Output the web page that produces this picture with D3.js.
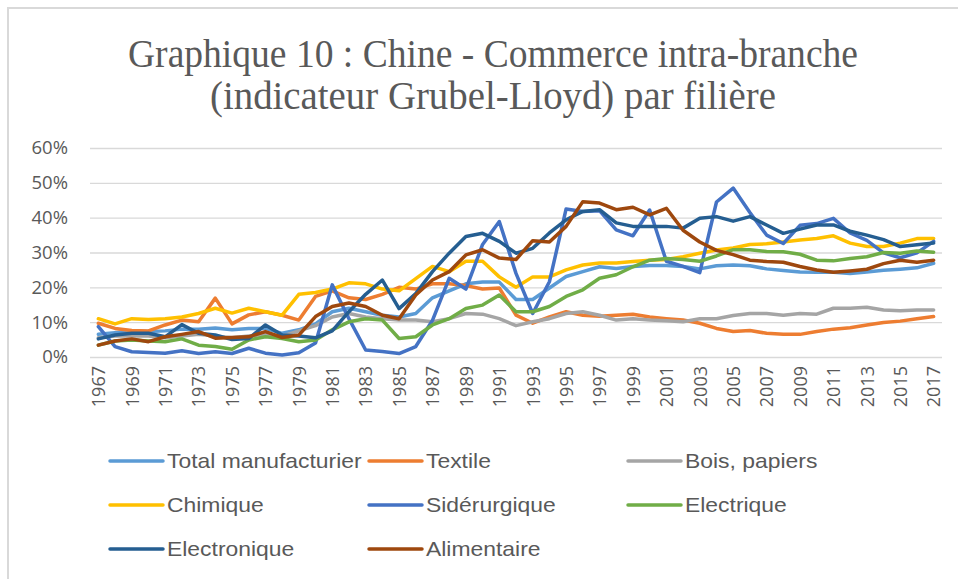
<!DOCTYPE html>
<meta charset="UTF-8">
<style>
  body { margin: 0; background: #fff; }
  .title { font-family: "Liberation Serif", "DejaVu Serif", serif; fill: #595959; }
  .tick text { font-family: "Open Sans", sans-serif; fill: #595959; }
  .legend text { font-family: "Liberation Sans", sans-serif; fill: #595959; }
</style>
<body>
<script src="https://cdnjs.cloudflare.com/ajax/libs/d3/7.8.5/d3.min.js"></script>
<script>
// years 1967 -> 2017
const years = d3.range(1967, 2018);
const yTicks = [0, 0.1, 0.2, 0.3, 0.4, 0.5, 0.6];

// values in %
const totalManufacturier = [6.5, 7, 7.5, 7.3, 7.5, 8, 8, 8.3, 7.8, 8.2, 8.2, 6.8, 7.8, 9.5, 13, 14, 13, 12, 11.5, 12.5,
  17, 19, 21, 21.5, 21.5, 16.5, 16.5, 19.8, 23.1, 24.5, 25.9, 25.4, 26, 26.3, 26.3, 26, 25.3, 26.2, 26.4, 26.2,
  25.3, 24.8, 24.4, 24.3, 24.3, 24, 24.4, 24.9, 25.2, 25.6, 26.9];
const textile = [9.7, 8.2, 7.6, 7.5, 9.2, 10.6, 10.1, 16.9, 9.5, 12.1, 13, 12, 10.6, 17.4, 19, 17, 16.5, 18, 20, 19.5,
  21, 21, 20.5, 19.5, 19.8, 12, 9.7, 11.5, 13, 12, 11.7, 12, 12.3, 11.5, 11, 10.6, 9.7, 8.2, 7.3, 7.6,
  6.8, 6.5, 6.5, 7.3, 8, 8.4, 9.2, 9.9, 10.3, 11, 11.6];
const boisPapiers = [5.5, 6, 6, 6, 5.5, 6, 6.5, 6, 5.5, 6, 6.5, 6, 7.5, 9, 11.5, 12.5, 11.5, 11, 10.6, 10.6,
  10.1, 11, 12.5, 12.3, 11, 9, 10.1, 11, 12.5, 13, 12, 10.6, 11, 10.6, 10.4, 10.1, 11, 11, 11.9, 12.5,
  12.5, 12, 12.5, 12.3, 14, 14, 14.3, 13.5, 13.3, 13.5, 13.5];
const chimique = [11, 9.5, 11, 10.8, 11, 11.5, 12.5, 14, 12.6, 14, 13, 12, 18, 18.5, 19.5, 21.3, 21, 19.5, 19, 22.5,
  26, 24.5, 27.5, 27.5, 23, 20, 23, 23, 25, 26.4, 27, 27, 27.4, 27.8, 28, 28.8, 29.8, 30.7, 31.3, 32.3,
  32.5, 33, 33.6, 34, 34.8, 32.7, 31.7, 31.7, 32.7, 34, 34];
const siderurgique = [8.7, 3, 1.5, 1.3, 1.1, 1.8, 1, 1.5, 1, 2.5, 1.1, 0.6, 1.2, 4, 20.7, 11, 2, 1.6, 1, 3,
  10.5, 22.6, 19.5, 32.3, 38.9, 24, 12.5, 21.6, 42.5, 41.8, 42, 36.5, 34.8, 42.2, 27.5, 26, 24.2, 44.5, 48.5, 41.5,
  35, 32.6, 37.8, 38.3, 39.8, 35.6, 33.5, 29.9, 28.5, 29.9, 33.2];
const electrique = [3.4, 4.6, 4.9, 4.6, 4.4, 5.2, 3.4, 3, 2.2, 4.9, 5.8, 5.3, 4.4, 4.9, 7.8, 10.1, 11, 10.6, 5.3, 5.8,
  9.2, 11, 13.9, 14.9, 17.8, 13, 13, 14.5, 17.4, 19.3, 22.6, 23.6, 25.9, 27.8, 28.3, 28, 27.5, 29, 30.8, 30.8,
  30.3, 30.2, 29.5, 27.8, 27.6, 28.3, 28.8, 30, 29.8, 30.4, 30.1];
const electronique = [5.2, 6.3, 6.8, 6.8, 5.8, 9.3, 6.8, 6.3, 5, 5.3, 9.2, 6.3, 6, 5.5, 7.5, 13, 18, 22.1, 13.9, 18.2,
  24.5, 29.8, 34.6, 35.5, 33.2, 29.8, 31.2, 35.6, 39.4, 41.8, 42.3, 38.5, 37.5, 37.5, 37.5, 37, 39.8, 40.3, 39, 40.3,
  37.9, 35.5, 36.7, 37.9, 37.9, 36.1, 35, 33.7, 31.7, 32.2, 32.7];
const alimentaire = [3.4, 4.6, 5.2, 4.4, 5.8, 6.5, 7.3, 5.4, 5.6, 5.8, 7.3, 5.6, 6.3, 11.6, 14.5, 15.5, 14.5, 12, 11, 17.8,
  22.1, 24.5, 29.3, 30.8, 28.4, 28, 33.4, 33, 37.5, 44.6, 44.2, 42.3, 43, 40.8, 42.7, 36.4, 33, 30.6, 29.4, 27.8,
  27.4, 27.2, 26, 25, 24.3, 24.7, 25.2, 26.8, 27.8, 27.2, 27.8];

const seriesNames = ["Total manufacturier", "Textile", "Bois, papiers", "Chimique", "Sidérurgique",
  "Electrique", "Electronique", "Alimentaire"];
const seriesValues = [totalManufacturier, textile, boisPapiers, chimique, siderurgique,
  electrique, electronique, alimentaire];
const colors = ["#5B9BD5", "#ED7D31", "#A5A5A5", "#FFC000", "#4472C4", "#70AD47", "#255E91", "#9E480E"];

const width = 958, height = 579;
const plot = {left: 90, right: 942, top: 148, bottom: 357};

const svg = d3.select("body").append("svg")
    .attr("width", width)
    .attr("height", height);

// chart frame
svg.append("rect")
    .attr("x", 8).attr("y", 8)
    .attr("width", 1000).attr("height", 1000)
    .attr("fill", "none")
    .attr("stroke", "#D9D9D9")
    .attr("stroke-width", 2);

// title (the source text is a little condensed, so squeeze it with textLength)
const titleLines = [
  {text: "Graphique 10 : Chine - Commerce intra-branche", y: 67, w: 730},
  {text: "(indicateur Grubel-Lloyd) par filière", y: 109, w: 566}
];
titleLines.forEach(l => {
  svg.append("text")
      .attr("class", "title")
      .attr("text-anchor", "middle")
      .attr("x", 493).attr("y", l.y)
      .attr("textLength", l.w)
      .attr("lengthAdjust", "spacingAndGlyphs")
      .style("font-size", "40px")
      .text(l.text);
});

const x = d3.scalePoint()
    .domain(years)
    .range([plot.left, plot.right])
    .padding(0.5);

const y = d3.scaleLinear()
    .domain([0, 0.6])
    .range([plot.bottom, plot.top]);

// gridlines + y labels
const yAxis = svg.append("g")
    .attr("transform", `translate(${plot.left},0)`)
    .call(d3.axisLeft(y).tickValues(yTicks).tickFormat(d3.format(".0%"))
        .tickSize(-(plot.right - plot.left)).tickPadding(22));
yAxis.select(".domain").remove();
yAxis.selectAll(".tick line").attr("stroke", "#D9D9D9").attr("stroke-width", 1.3);
yAxis.selectAll(".tick text").style("font-size", "18.5px");

// x labels
const xAxis = svg.append("g")
    .attr("transform", `translate(0,${plot.bottom})`)
    .call(d3.axisBottom(x).tickValues(years.filter(d => (d - 1967) % 2 === 0)).tickSize(0));
xAxis.select(".domain").remove();
xAxis.selectAll(".tick text")
    .style("font-size", "18px")
    .attr("text-anchor", "end")
    .attr("transform", "rotate(-90)")
    .attr("x", -9)
    .attr("y", 0)
    .attr("dy", "0.35em");

// lines
const line = d3.line()
    .x((d, i) => x(years[i]))
    .y(d => y(d / 100));

svg.append("g").selectAll("path")
    .data(seriesValues)
    .join("path")
    .attr("fill", "none")
    .attr("stroke", (d, i) => colors[i])
    .attr("stroke-width", 3.5)
    .attr("stroke-linejoin", "round")
    .attr("stroke-linecap", "round")
    .attr("d", line);

// legend
const legendCols = [110, 369, 628];
const legendRows = [461, 505, 549];
const legend = svg.append("g").attr("class", "legend");
seriesNames.forEach((name, i) => {
  const cx = legendCols[i % 3], cy = legendRows[Math.floor(i / 3)];
  legend.append("line")
      .attr("x1", cx).attr("x2", cx + 53)
      .attr("y1", cy).attr("y2", cy)
      .attr("stroke", colors[i])
      .attr("stroke-width", 3.5)
      .attr("stroke-linecap", "round");
  const t = legend.append("text")
      .attr("x", cx + 57)
      .attr("y", cy)
      .attr("dy", "0.35em")
      .style("font-size", "21px")
      .text(name);
  // stretch a bit to match the wider label widths of the source
  const w = t.node().getComputedTextLength();
  t.attr("textLength", w * 1.09).attr("lengthAdjust", "spacingAndGlyphs");
});
</script>
</body>
